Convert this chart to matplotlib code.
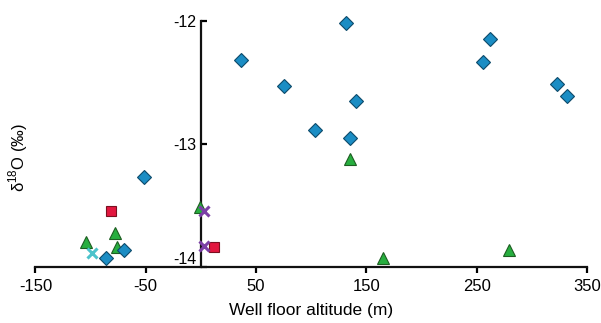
import matplotlib
matplotlib.use("Agg")
import matplotlib.pyplot as plt

plt.rcParams['font.family'] = ['Liberation Sans', 'DejaVu Sans']
plt.rcParams['mathtext.fontset'] = 'custom'
plt.rcParams['mathtext.rm'] = 'Liberation Sans'
plt.rcParams['axes.unicode_minus'] = False

# data
diamond_x = [-51.7, -85.7, -69.8, 36.6, 75.4, 131.4, 140.4, 103, 135, 262.4, 256, 322.3, 331.6]
diamond_y = [-13.27, -13.93, -13.86, -12.32, -12.53, -12.02, -12.65, -12.89, -12.95,
             -12.15, -12.33, -12.51, -12.61]

triangle_x = [-103.7, -77.6, -76.1, -0.8, 135, 164.6, 279.2]
triangle_y = [-13.80, -13.72, -13.84, -13.51, -13.12, -13.93, -13.86]

square_x = [-81.8, 12]
square_y = [-13.545, -13.835]

cyan_x = [-98.3]
cyan_y = [-13.89]

purple_x = [3, 3]
purple_y = [-13.545, -13.83]

x_ticks = [-150, -50, 50, 150, 250, 350]
y_ticks = [-14, -13, -12]

fig = plt.figure(figsize=(6.01, 3.23), dpi=100)
ax = fig.add_axes([0.0589, 0.1734, 0.918, 0.7616])

ax.plot(triangle_x, triangle_y, ls='none', marker='^', ms=9, mfc='#27ae3f',
        mec='#1d5e22', mew=0.8, clip_on=False, zorder=3)
ax.plot(square_x, square_y, ls='none', marker='s', ms=7.5, mfc='#e2173f',
        mec='#7a1020', mew=0.8, clip_on=False, zorder=4)
ax.plot(diamond_x, diamond_y, ls='none', marker='D', ms=7.3, mfc='#1b8dc4',
        mec='#0d4a6a', mew=0.8, clip_on=False, zorder=5)
ax.plot(cyan_x, cyan_y, ls='none', marker='x', ms=7, mec='#4cc3cb', mew=2.2,
        clip_on=False, zorder=6)
ax.plot(purple_x, purple_y, ls='none', marker='x', ms=7, mec='#7b3fa6', mew=2.2,
        clip_on=False, zorder=6)

ax.set_xlim(-150, 350)
ax.set_ylim(-14, -12)

ax.spines['top'].set_visible(False)
ax.spines['right'].set_visible(False)
ax.spines['left'].set_position(('data', 0))
ax.spines['left'].set_bounds(-14, -12)
ax.spines['bottom'].set_bounds(-150, 350)
for s in ['left', 'bottom']:
    ax.spines[s].set_linewidth(1.6)
    ax.spines[s].set_color('#111111')

ax.set_xticks(x_ticks)
ax.set_yticks(y_ticks)
ax.set_yticklabels([str(t) for t in y_ticks])
ax.tick_params(axis='x', direction='out', length=4, width=1.6, labelsize=12, pad=5)
ax.tick_params(axis='y', direction='in', length=4, width=1.6, labelsize=11.5, pad=3)
# the -14 label sits a little above the axis line in the original
ax.get_yticklabels()[0].set_verticalalignment('bottom')

ax.set_xlabel('Well floor altitude (m)', fontsize=12.5, labelpad=6)
ax.set_ylabel(r'δ$^{18}$O (‰)', fontsize=12)
ax.yaxis.set_label_coords(-0.01, 0.447)

fig.savefig('out.png', dpi=100)
